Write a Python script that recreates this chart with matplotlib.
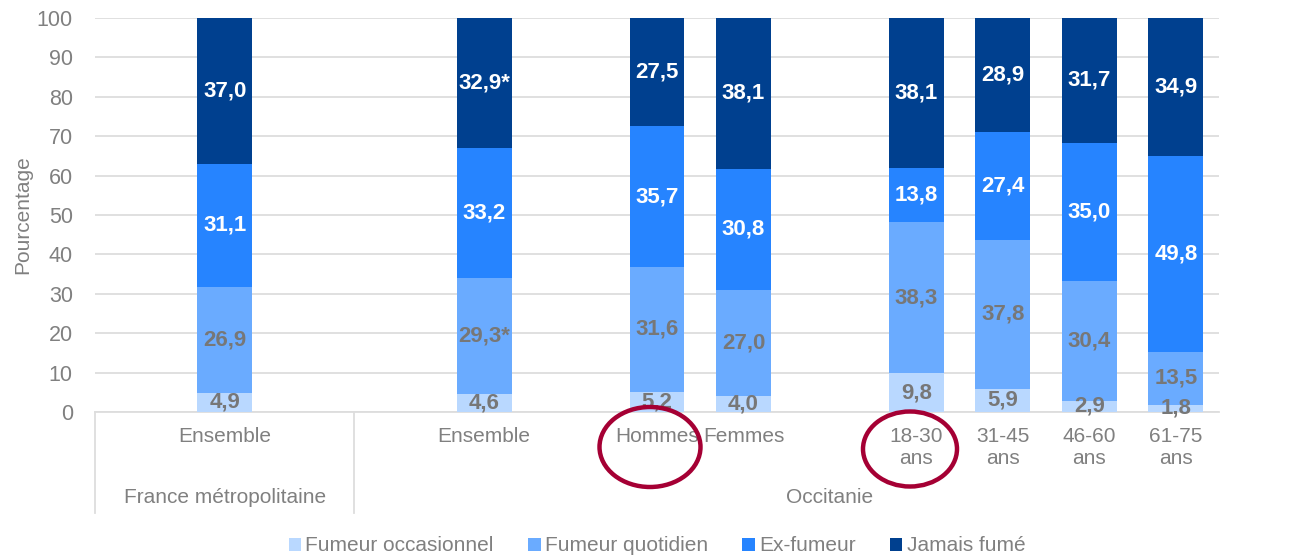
import matplotlib
matplotlib.use('Agg')
import matplotlib.pyplot as plt
from matplotlib.patches import Patch, Ellipse
import matplotlib.transforms as mtransforms

plt.rcParams['font.family'] = ['Liberation Sans', 'DejaVu Sans']

# Data
categories = ['Ensemble', 'Ensemble', 'Hommes', 'Femmes',
              '18-30\nans', '31-45\nans', '46-60\nans', '61-75\nans']
positions = [0, 3, 5, 6, 8, 9, 10, 11]
occasionnel = [4.9, 4.6, 5.2, 4.0, 9.8, 5.9, 2.9, 1.8]
quotidien = [26.9, 29.3, 31.6, 27.0, 38.3, 37.8, 30.4, 13.5]
ex_fumeur = [31.1, 33.2, 35.7, 30.8, 13.8, 27.4, 35.0, 49.8]
jamais = [37.0, 32.9, 27.5, 38.1, 38.1, 28.9, 31.7, 34.9]
star_labels = {(1, 1): '29,3*', (3, 1): '32,9*'}
groups = ['France métropolitaine', 'Occitanie']
group_centers = [0, 7]
group_edges = [-1.5, 1.5]

series = [occasionnel, quotidien, ex_fumeur, jamais]
names = ['Fumeur occasionnel', 'Fumeur quotidien', 'Ex-fumeur', 'Jamais fumé']
colors = ['#B9D8FF', '#6AABFF', '#2684FF', '#00408F']
label_colors = ['#777777', '#777777', 'white', 'white']
grey = '#808080'

fig = plt.figure(figsize=(12.89, 5.56), dpi=100)
ax = fig.add_axes([95 / 1289, 1 - 412 / 556, 1124 / 1289, 394 / 556])

bottom = [0] * len(positions)
for s, (vals, col, lc) in enumerate(zip(series, colors, label_colors)):
    ax.bar(positions, vals, width=0.635, bottom=bottom, color=col, zorder=3)
    for i, v in enumerate(vals):
        txt = star_labels.get((s, i), f'{v:.1f}'.replace('.', ','))
        ax.text(positions[i], bottom[i] + v / 2, txt, ha='center', va='center',
                color=lc, fontsize=16, fontweight='bold', zorder=4)
    bottom = [b + v for b, v in zip(bottom, vals)]

ax.set_xlim(-1.5, 11.5)
ax.set_ylim(0, 100)
ax.set_yticks(range(0, 101, 10))
ax.yaxis.grid(True, color='#DDDDDD', linewidth=1.3, zorder=0)
ax.set_xticks(positions)
ax.set_xticklabels(categories, fontsize=15, color=grey)
ax.tick_params(axis='x', length=0, pad=11)
ax.tick_params(axis='y', length=0, labelsize=15.5, labelcolor=grey, pad=16)
ax.set_ylabel('Pourcentage', fontsize=15, color=grey, labelpad=3)
for side in ['top', 'right', 'left']:
    ax.spines[side].set_visible(False)
ax.spines['bottom'].set_color('#DDDDDD')
ax.spines['bottom'].set_linewidth(1.3)

# Group labels and separators
trans = mtransforms.blended_transform_factory(ax.transData, ax.transAxes)
for g, c in zip(groups, group_centers):
    ax.text(c, -0.218, g, transform=trans, ha='center', va='center',
            fontsize=15, color=grey)
for e in group_edges:
    ax.plot([e, e], [0, -0.256], transform=trans, color='#DDDDDD',
            linewidth=1.3, clip_on=False)

# Red circles
for cx, cy, w, h in [(650, 447, 101, 80), (910, 449, 94, 75)]:
    fig.add_artist(Ellipse((cx / 1289, 1 - cy / 556), w / 1289, h / 556,
                           transform=fig.transFigure, fill=False,
                           edgecolor='#A50034', linewidth=3.2, zorder=10))

handles = [Patch(facecolor=c, edgecolor='none') for c in colors]
fig.legend(handles, names, loc='center', bbox_to_anchor=(657 / 1289, 0.018),
           ncol=4, frameon=False, fontsize=15, labelcolor=grey,
           handlelength=0.6, handleheight=0.6, handletextpad=0.2,
           columnspacing=1.65)

fig.savefig('out.png', dpi=100)
